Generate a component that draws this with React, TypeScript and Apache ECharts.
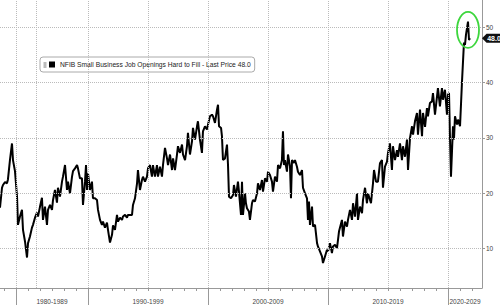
import React, { useEffect, useRef } from 'react';
import * as echarts from 'echarts';

const seriesName = 'NFIB Small Business Job Openings Hard to Fill';

const dates: string[] = [
  '1982-09','1982-11','1982-12','1983-02','1983-04','1983-05','1983-07','1983-09','1983-10','1983-12',
  '1984-02','1984-03','1984-05','1984-07','1984-08','1984-10','1984-12','1985-01','1985-03','1985-05',
  '1985-06','1985-08','1985-10','1985-11','1986-01','1986-03','1986-04','1986-06','1986-08','1986-09',
  '1986-11','1987-01','1987-02','1987-04','1987-06','1987-07','1987-09','1987-11','1987-12','1988-02',
  '1988-04','1988-05','1988-07','1988-09','1988-10','1988-12','1989-02','1989-03','1989-05','1989-07',
  '1989-08','1989-10','1989-11','1989-12','1990-01','1990-03','1990-05','1990-06','1990-08','1990-10',
  '1990-11','1991-01','1991-03','1991-04','1991-06','1991-08','1991-09','1991-11','1992-01','1992-02',
  '1992-04','1992-06','1992-07','1992-09','1992-11','1992-12','1993-02','1993-04','1993-05','1993-07',
  '1993-09','1993-10','1993-12','1994-02','1994-03','1994-05','1994-07','1994-08','1994-10','1994-12',
  '1995-01','1995-03','1995-05','1995-06','1995-08','1995-10','1995-11','1996-01','1996-03','1996-04',
  '1996-06','1996-08','1996-09','1996-11','1997-01','1997-02','1997-04','1997-06','1997-07','1997-09',
  '1997-11','1997-12','1998-02','1998-04','1998-05','1998-07','1998-09','1998-10','1998-12','1999-02',
  '1999-03','1999-05','1999-07','1999-08','1999-10','1999-12','2000-01','2000-03','2000-05','2000-06',
  '2000-08','2000-10','2000-11','2000-12','2001-02','2001-03','2001-04','2001-06','2001-08','2001-09',
  '2001-10','2001-12','2002-02','2002-03','2002-05','2002-07','2002-08','2002-10','2002-11','2002-12',
  '2003-02','2003-03','2003-04','2003-06','2003-07','2003-09','2003-10','2003-12','2004-02','2004-03',
  '2004-05','2004-07','2004-08','2004-10','2004-12','2005-01','2005-03','2005-05','2005-06','2005-08',
  '2005-10','2005-11','2006-01','2006-03','2006-04','2006-05','2006-06','2006-08','2006-09','2006-11',
  '2006-12','2007-01','2007-03','2007-04','2007-06','2007-07','2007-09','2007-11','2007-12','2008-02',
  '2008-04','2008-05','2008-06','2008-07','2008-09','2008-10','2008-12','2009-02','2009-03','2009-05',
  '2009-07','2009-08','2009-10','2009-12','2010-01','2010-03','2010-05','2010-06','2010-08','2010-10',
  '2010-11','2010-12','2011-03','2011-04','2011-06','2011-08','2011-09','2011-11','2012-01','2012-02',
  '2012-04','2012-06','2012-07','2012-09','2012-11','2012-12','2013-02','2013-04','2013-05','2013-08',
  '2013-10','2013-11','2014-01','2014-03','2014-05','2014-07','2014-08','2014-10','2014-12','2015-01',
  '2015-03','2015-05','2015-06','2015-08','2015-10','2015-11','2016-01','2016-03','2016-04','2016-06',
  '2016-08','2016-09','2016-11','2017-01','2017-02','2017-04','2017-06','2017-07','2017-09','2017-11',
  '2017-12','2018-02','2018-04','2018-05','2018-07','2018-09','2018-10','2018-12','2019-02','2019-03',
  '2019-05','2019-07','2019-08','2019-10','2019-12','2020-01','2020-02','2020-03','2020-04','2020-06',
  '2020-07','2020-08','2020-10','2020-11','2021-01','2021-03','2021-05','2021-06','2021-07','2021-09',
  '2021-10','2021-11',
];

const values: number[] = [
  17.4, 21, 21.5, 22, 21.8, 22.5, 26, 29, 26, 24,
  19.4, 14.3, 15.8, 17, 13.4, 11.3, 8.4, 11, 12.2, 13.8,
  14.3, 15.6, 16.5, 15.8, 17.6, 19.2, 15.2, 17.6, 14.3, 17,
  17.9, 17, 18.8, 20.6, 18.3, 21, 19.4, 22.1, 23, 25.1,
  20.6, 22.1, 20, 23, 24, 24.5, 25.1, 24.5, 22.7, 22.7,
  17.9, 22.1, 25.1, 20.6, 23.6, 20.6, 22.1, 19.1, 19.1, 18.8,
  17, 15.2, 14.3, 14.9, 13.8, 14.7, 13.4, 11.1, 12.5, 14.2,
  13.4, 16.1, 14.9, 15.6, 15.2, 15.8, 16.1, 15.6, 16.1, 16.1,
  16.1, 17.9, 19.1, 21.8, 24.2, 20.6, 22.4, 23, 22.1, 23,
  24.5, 25.1, 23, 25.1, 23, 25.1, 23, 24.8, 23, 25.1,
  28.2, 26.3, 25.1, 27, 24.2, 26.3, 24.2, 27, 28.5, 27.3,
  28.8, 27, 26, 28.5, 30.9, 27, 29.4, 31.8, 29.7, 32.1,
  33, 29.7, 27.3, 31.2, 32.1, 31.5, 32.4, 33.9, 34.2, 33.9,
  32.7, 35.1, 36, 32.1, 31.8, 30.3, 26, 26.3, 28.8, 25.1,
  19.4, 19.1, 19.7, 21.5, 19.4, 22.1, 20.3, 16.1, 22.1, 16.1,
  20, 18.2, 17.3, 16.7, 15.2, 18.2, 18.8, 18.5, 20, 21.8,
  20.6, 22.4, 20.3, 22.7, 22.1, 23.9, 23.3, 22.1, 20.3, 23,
  22.1, 25.1, 24.5, 26, 31.2, 25.1, 26, 23.9, 27, 24.8,
  19.1, 26, 25.5, 26, 24.8, 23.9, 23.3, 24.2, 21, 20,
  19.1, 15.2, 18.5, 14.3, 17.6, 14, 14.3, 11, 10.4, 9.5,
  8.6, 7.4, 8.6, 9.8, 9.5, 11, 9.2, 10.4, 10.7, 10.1,
  11.6, 13.1, 15.2, 12.2, 14.9, 14, 15.2, 17, 15.2, 18.2,
  15.8, 20, 15.2, 17.6, 16.4, 18.8, 21, 18.2, 20, 18.2,
  21.8, 24.2, 22.1, 22.1, 25.4, 26, 21, 24.8, 25.7, 27.3,
  29, 24.2, 28.5, 26, 27.8, 26.6, 29, 26, 28.5, 26.6,
  29.7, 24.2, 30, 32.1, 30.6, 33, 34.5, 30.6, 35.1, 30.3,
  34.5, 32, 35.4, 33.9, 36.3, 36.6, 38.1, 34.2, 37.5, 39,
  35.7, 39, 36.9, 38.7, 34.2, 37.8, 38.1, 30.3, 23, 32.1,
  29.7, 33.9, 32.4, 33.3, 32.1, 40, 47.2, 46.8, 48.6, 51,
  47.7, 48,
];

const yTicks: number[] = [10, 20, 30, 40, 50];
const decadeLabels: string[] = ['1980-1989', '1990-1999', '2000-2009', '2010-2019', '2020-2029'];
const decadeStarts: string[] = ['1984-01', '1990-01', '2000-01', '2010-01', '2020-01'];
const gridDates: string[] = ['1984-01', '1985-09', '1990-01', '1995-01', '2000-01', '2005-01', '2010-01', '2015-01', '2020-01'];
const axisStart = '1982-09';
const axisEnd = '2022-11';
const yMin = 2.9;
const yMax = 54.9;

const ts = (d: string) => {
  const [y, m] = d.split('-').map(Number);
  return new Date(y, m - 1, 1).getTime();
};

export default function App() {
  const ref = useRef<HTMLDivElement>(null);

  useEffect(() => {
    document.body.style.margin = '0';
    if (!ref.current) return;
    const chart = echarts.init(ref.current, null, { renderer: 'svg' });

    const points = dates.map((d, i) => [ts(d), values[i]]);
    const last = values[values.length - 1];
    const startTs = ts(axisStart);
    const endTs = ts(axisEnd);
    const startY = Number(axisStart.split('-')[0]);
    const endY = Number(axisEnd.split('-')[0]);
    const yearTicks: number[] = [];
    for (let y = startY + 1; y <= endY; y++) yearTicks.push(ts(`${y}-01`));
    const starts = decadeStarts.map(ts);
    const mids = starts.map((s, i) => (s + (i + 1 < starts.length ? starts[i + 1] : endTs)) / 2);
    const font = 'Liberation Sans, Arial, sans-serif';

    const option: any = {
      animation: false,
      backgroundColor: '#ffffff',
      textStyle: { fontFamily: font },
      grid: { left: 0, right: 18, top: 0, bottom: 17, containLabel: false, outerBoundsMode: 'none' },
      legend: {
        data: [seriesName],
        left: 40,
        top: 57,
        icon: 'rect',
        itemWidth: 6,
        itemHeight: 6,
        padding: [4, 4, 4, 9],
        borderColor: '#aaaaaa',
        borderWidth: 1,
        borderRadius: 3,
        backgroundColor: '#ffffff',
        selectedMode: false,
        textStyle: { fontSize: 6.7, color: '#222', fontFamily: font },
        formatter: (name: string) => `${name} - Last Price ${last.toFixed(1)}`,
      },
      xAxis: [
        {
          type: 'value',
          min: startTs,
          max: endTs,
          position: 'bottom',
          axisLine: { show: true, lineStyle: { color: '#999', width: 1 } },
          axisTick: { show: true, customValues: yearTicks, length: 3, lineStyle: { color: '#999' } },
          axisLabel: { show: false },
          splitLine: { show: false },
        },
        {
          type: 'value',
          min: startTs,
          max: endTs,
          position: 'bottom',
          axisLine: { show: false },
          axisTick: { show: true, customValues: starts, length: 17, lineStyle: { color: '#999' } },
          axisLabel: {
            show: true,
            customValues: mids,
            fontSize: 6.5,
            color: '#444',
            margin: 10,
            fontFamily: font,
            formatter: (v: number) => {
              const i = mids.findIndex((m) => Math.abs(m - v) < 86400000 * 40);
              return i >= 0 ? decadeLabels[i] : '';
            },
          },
          splitLine: { show: false },
        },
      ],
      yAxis: {
        type: 'value',
        position: 'right',
        min: yMin,
        max: yMax,
        axisLine: { show: true, lineStyle: { color: '#999' } },
        axisTick: { show: true, customValues: yTicks, length: 3, lineStyle: { color: '#999' } },
        axisLabel: { customValues: yTicks, fontSize: 6.5, color: '#444', margin: 4, fontFamily: font },
        splitLine: { show: false },
      },
      series: [
        {
          type: 'line',
          name: 'grid',
          data: points,
          symbol: 'none',
          silent: true,
          z: 1,
          lineStyle: { opacity: 0 },
          markLine: {
            silent: true,
            symbol: ['none', 'none'],
            label: { show: false },
            lineStyle: { type: 'dotted', color: '#bbbbbb', width: 1 },
            data: [
              ...yTicks.map((v) => ({ yAxis: v })),
              ...gridDates.map((d) => ({ xAxis: ts(d) })),
            ],
          },
        },
        {
          type: 'line',
          name: seriesName,
          data: points,
          symbol: 'none',
          z: 3,
          lineStyle: { color: '#000', width: 2 },
          itemStyle: { color: '#000' },
          markPoint: {
            silent: true,
            symbol: 'path://M0,5L5,0L24,0L24,10L5,10Z',
            symbolSize: [22, 9],
            symbolKeepAspect: false,
            symbolOffset: [11, 0],
            itemStyle: { color: '#111' },
            label: {
              show: true,
              position: 'inside',
              color: '#fff',
              fontSize: 7,
              fontWeight: 'bold',
              fontFamily: font,
              offset: [1, 0],
              formatter: () => last.toFixed(1),
            },
            data: [{ coord: [endTs, last] }],
          },
        },
      ],
    };

    chart.setOption(option);

    const peakIdx = values.indexOf(Math.max(...values));
    const c = chart.convertToPixel({ seriesIndex: 1 }, [ts(dates[peakIdx]), (values[peakIdx] + last) / 2]) as number[];
    chart.setOption({
      graphic: [
        {
          type: 'ellipse',
          z: 10,
          silent: true,
          shape: { cx: c[0], cy: c[1], rx: 11, ry: 18 },
          style: { fill: 'none', stroke: '#3dd63d', lineWidth: 1.8 },
        },
        {
          type: 'rect',
          z: 10,
          silent: true,
          shape: { x: 43.5, y: 62, width: 3, height: 6 },
          style: { fill: '#bbbbbb' },
        },
      ],
    });

    return () => chart.dispose();
  }, []);

  return <div ref={ref} style={{ width: 500, height: 305 }} />;
}
